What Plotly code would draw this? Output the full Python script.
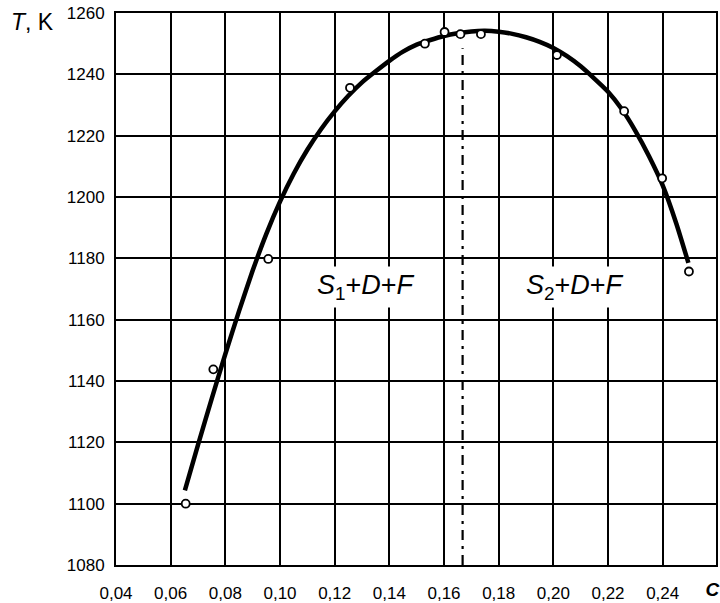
import plotly.graph_objects as go

# Experimental points (open circles)
pt_c = [0.0655, 0.0756, 0.0957, 0.1256, 0.1530, 0.1602, 0.1660, 0.1735, 0.2013, 0.2259, 0.2398, 0.2496]
pt_T = [1100.0, 1143.8, 1179.8, 1235.6, 1250.0, 1253.8, 1253.1, 1253.1, 1246.3, 1228.0, 1206.1, 1175.7]

# Fitted curve
curve_c = [0.0652, 0.070, 0.075, 0.080, 0.085, 0.090, 0.095, 0.100, 0.105, 0.110,
           0.115, 0.120, 0.125, 0.130, 0.135, 0.140, 0.145, 0.150, 0.155, 0.160,
           0.165, 0.170, 0.175, 0.180, 0.185, 0.190, 0.195, 0.200, 0.205, 0.210,
           0.215, 0.220, 0.225, 0.230, 0.235, 0.240, 0.245, 0.2494]
curve_T = [1104.3, 1119.2, 1134.2, 1148.8, 1162.8, 1176.0, 1188.0, 1198.5, 1207.6, 1215.4,
           1222.1, 1227.9, 1233.0, 1237.4, 1241.0, 1244.4, 1247.4, 1249.7, 1251.2, 1252.5,
           1253.4, 1254.0, 1254.2, 1253.9, 1253.2, 1252.1, 1250.6, 1248.6, 1245.9, 1242.6,
           1238.6, 1234.3, 1228.7, 1221.6, 1213.3, 1203.8, 1191.3, 1178.5]

# Phase boundary (dash-dot)
bound_c = [0.1668, 0.1668]
bound_T = [1080, 1248.5]

x_ticks = [0.04, 0.06, 0.08, 0.10, 0.12, 0.14, 0.16, 0.18, 0.20, 0.22, 0.24, 0.26]
x_ticklabels = ["0,04", "0,06", "0,08", "0,10", "0,12", "0,14", "0,16", "0,18", "0,20", "0,22", "0,24", "0,26"]
y_ticks = [1080, 1100, 1120, 1140, 1160, 1180, 1200, 1220, 1240, 1260]
x_title = "C"
x_title_pos = 0.2582

X_RANGE = [0.04, 0.2595]
FONT = "Liberation Sans, Arial, sans-serif"

fig = go.Figure()
fig.add_trace(go.Scatter(x=bound_c, y=bound_T, mode="lines", xaxis="x2", yaxis="y",
                         line=dict(color="black", width=2.2, dash="10px,6px,3px,6px"),
                         hoverinfo="skip", showlegend=False))
fig.add_trace(go.Scatter(x=curve_c, y=curve_T, mode="lines",
                         line=dict(color="black", width=4.5, shape="spline", smoothing=0.6),
                         showlegend=False))
fig.add_trace(go.Scatter(x=pt_c, y=pt_T, mode="markers",
                         marker=dict(symbol="circle", size=8, color="white",
                                     line=dict(color="black", width=1.8)),
                         showlegend=False))

fig.add_annotation(x=0.1316, y=1170.5, xref="x", yref="y", showarrow=False,
                   xanchor="center", yanchor="middle",
                   text="<i>S</i><sub>1</sub>+<i>D</i>+<i>F</i>",
                   font=dict(family=FONT, size=27, color="black"), bgcolor="white",
                   borderpad=3)
fig.add_annotation(x=0.2079, y=1170.5, xref="x", yref="y", showarrow=False,
                   xanchor="center", yanchor="middle",
                   text="<i>S</i><sub>2</sub>+<i>D</i>+<i>F</i>",
                   font=dict(family=FONT, size=27, color="black"), bgcolor="white",
                   borderpad=3)

W, H = 720, 603
l, r, t, b = 116, 0, 13, 33
pw, ph = W - l - r, H - t - b

tx, ty = (32 - l) / pw, 1 - (22 - t) / ph
fig.add_annotation(x=tx, y=ty, xref="paper", yref="paper", showarrow=False,
                   xanchor="center", yanchor="middle",
                   text="<i>T</i>, K", font=dict(family=FONT, size=23, color="black"))

fig.update_layout(
    width=W, height=H,
    margin=dict(l=l, r=r, t=t, b=b),
    paper_bgcolor="white", plot_bgcolor="white",
    font=dict(family=FONT, size=17, color="black"),
    xaxis=dict(range=X_RANGE, tickvals=x_ticks, ticktext=x_ticklabels,
               showgrid=True, gridcolor="black", gridwidth=1.6,
               showline=True, linecolor="black", linewidth=2, mirror=True,
               zeroline=False, ticks="", ticklabelstandoff=12,
               tickfont=dict(family=FONT, size=17, color="black")),
    xaxis2=dict(overlaying="x", anchor="y", side="bottom", range=X_RANGE,
                tickvals=[x_title_pos], ticktext=["<b><i>" + x_title + "</i></b>"],
                showgrid=False, showline=False, zeroline=False, ticks="",
                ticklabelstandoff=11, ticklabeloverflow="allow",
                tickfont=dict(family=FONT, size=19, color="black")),
    yaxis=dict(range=[1080, 1260], tickvals=y_ticks,
               showgrid=True, gridcolor="black", gridwidth=1.6,
               showline=True, linecolor="black", linewidth=2, mirror=True,
               zeroline=False, ticks="", ticklabelstandoff=6,
               tickfont=dict(family=FONT, size=17, color="black")),
)

fig.write_html("out.html")
